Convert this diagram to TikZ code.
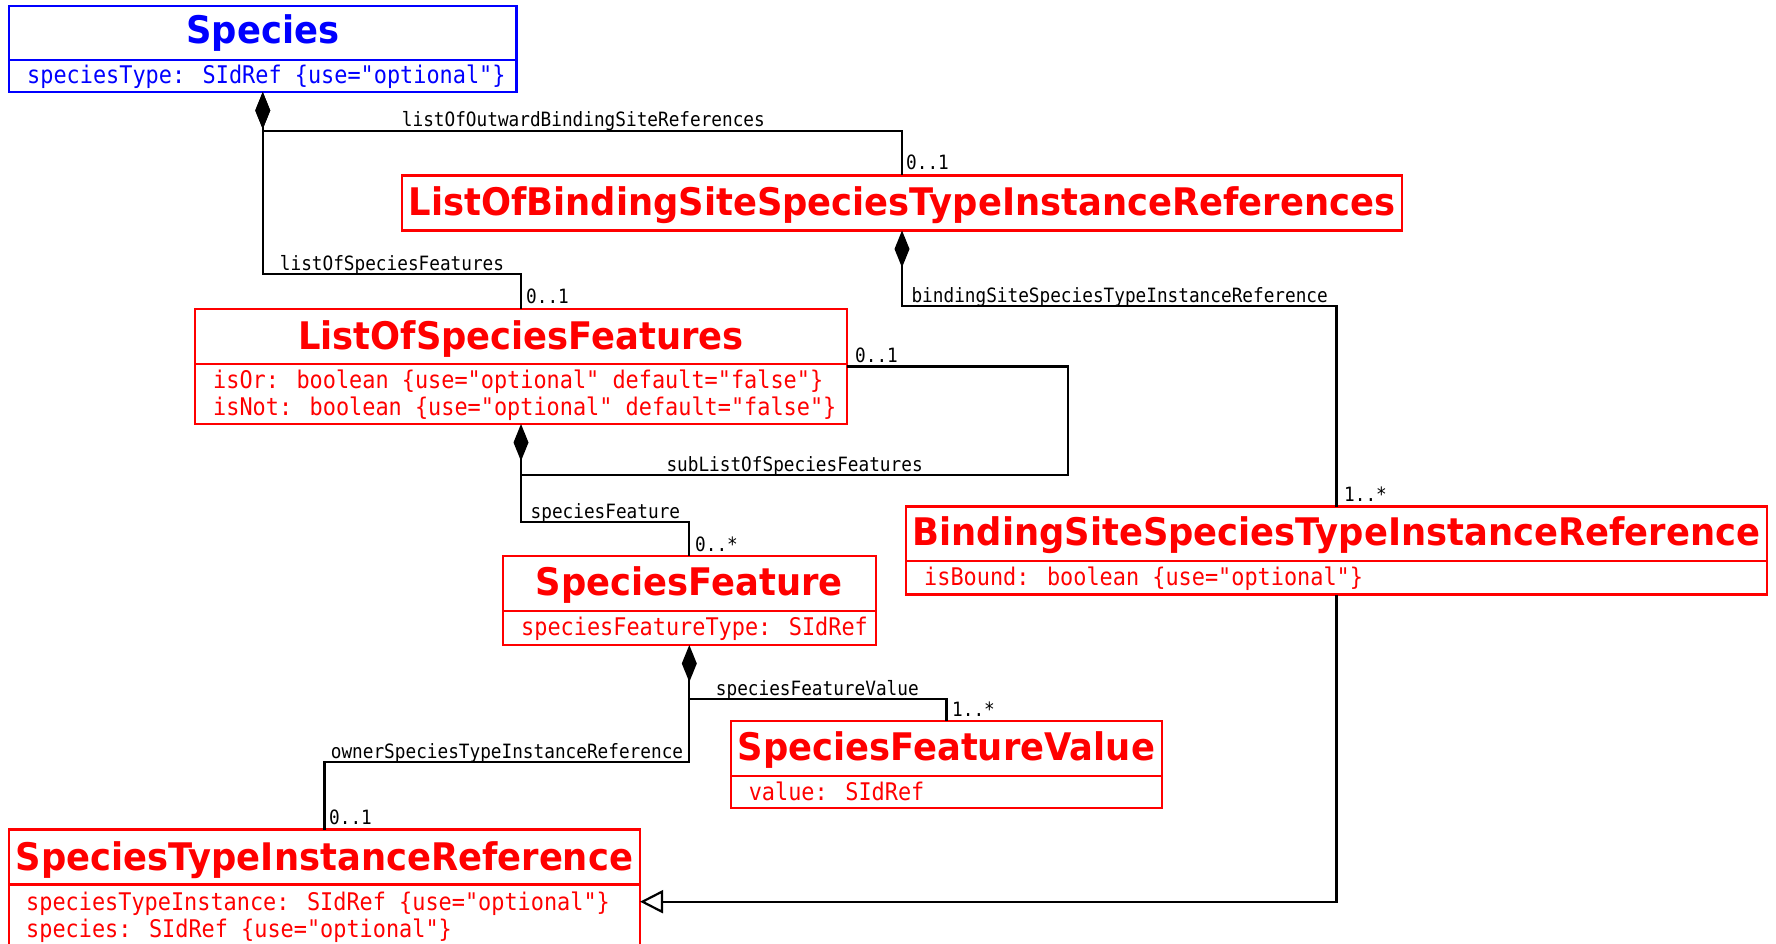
\documentclass[tikz,border=0pt]{standalone}
\usepackage{fontspec}
\usetikzlibrary{arrows.meta}
\newfontfamily\titlefont[FakeStretch=0.93]{DejaVu Sans}
\newfontfamily\umlmono[FakeStretch=0.9]{DejaVu Sans Mono}
\definecolor{umlred}{RGB}{255,0,0}
\definecolor{umlblue}{RGB}{0,0,255}
\tikzset{
  classbox/.style={draw=#1, line width=2.2pt, rectangle, inner sep=0pt, outer sep=0pt, fill=white},
  divider/.style={draw=#1, line width=2.2pt},
  ctitle/.style={text=#1, font=\titlefont\bfseries\fontsize{38}{38}\selectfont, anchor=base, inner sep=0pt},
  cattr/.style={text=#1, font=\umlmono\fontsize{24.3}{24.3}\selectfont, anchor=base west, inner sep=0pt},
  lbl/.style={font=\umlmono\fontsize{19.7}{19.7}\selectfont, anchor=base, inner sep=0pt},
  mult/.style={font=\umlmono\fontsize{19.7}{19.7}\selectfont, anchor=base west, inner sep=0pt},
  conn/.style={draw=black, line width=2.2pt},
  comp/.style={conn, {Diamond[length=37pt,width=15pt]}-},
  gen/.style={conn, -{Triangle[open,length=23pt,width=23pt,fill=white,line width=2.2pt]}}
}
\begin{document}
\begin{tikzpicture}[x=1pt,y=-1pt]
\useasboundingbox[fill=white] (0,0) rectangle (1776,944);

% ---------- classes ----------
% Species
\node[classbox=umlblue, minimum width=507.5pt, minimum height=86pt, anchor=north west] (A) at (9,6) {};
\draw[divider=umlblue] (A.north west) ++(0,54) -- ++(507.5,0);
\node[ctitle=umlblue] (At) at (262.75,43.5) {Species};
\node[cattr=umlblue] (Aa) at (27,84) {speciesType: SIdRef \{use="optional"\}};

% ListOfBindingSiteSpeciesTypeInstanceReferences
\node[classbox=umlred, minimum width=1000pt, minimum height=55pt, anchor=north west] (B) at (402,175.5) {};
\node[ctitle=umlred] (Bt) at (902,215) {ListOfBindingSiteSpeciesTypeInstanceReferences};

% ListOfSpeciesFeatures
\node[classbox=umlred, minimum width=652pt, minimum height=115pt, anchor=north west] (C) at (195,309) {};
\draw[divider=umlred] (C.north west) ++(0,55) -- ++(652,0);
\node[ctitle=umlred] (Ct) at (521,349) {ListOfSpeciesFeatures};
\node[cattr=umlred] (Ca1) at (213,388) {isOr: boolean \{use="optional" default="false"\}};
\node[cattr=umlred] (Ca2) at (213,415) {isNot: boolean \{use="optional" default="false"\}};

% SpeciesFeature
\node[classbox=umlred, minimum width=372.6pt, minimum height=89pt, anchor=north west] (D) at (503,556) {};
\draw[divider=umlred] (D.north west) ++(0,55) -- ++(372.6,0);
\node[ctitle=umlred] (Dt) at (689.3,595.5) {SpeciesFeature};
\node[cattr=umlred] (Da) at (521,635) {speciesFeatureType: SIdRef};

% BindingSiteSpeciesTypeInstanceReference
\node[classbox=umlred, minimum width=861pt, minimum height=88pt, anchor=north west] (E) at (906,506.5) {};
\draw[divider=umlred] (E.north west) ++(0,54.5) -- ++(861,0);
\node[ctitle=umlred] (Et) at (1336.5,545) {BindingSiteSpeciesTypeInstanceReference};
\node[cattr=umlred] (Ea) at (924,585) {isBound: boolean \{use="optional"\}};

% SpeciesFeatureValue
\node[classbox=umlred, minimum width=431.6pt, minimum height=87pt, anchor=north west] (F) at (730.6,721) {};
\draw[divider=umlred] (F.north west) ++(0,55) -- ++(431.6,0);
\node[ctitle=umlred] (Ft) at (946.4,760.5) {SpeciesFeatureValue};
\node[cattr=umlred] (Fa) at (748.6,800) {value: SIdRef};

% SpeciesTypeInstanceReference
\node[classbox=umlred, minimum width=631pt, minimum height=120pt, anchor=north west] (G) at (9,829.5) {};
\draw[divider=umlred] (G.north west) ++(0,55) -- ++(631,0);
\node[ctitle=umlred] (Gt) at (324.5,870) {SpeciesTypeInstanceReference};
\node[cattr=umlred] (Ga1) at (26,910) {speciesTypeInstance: SIdRef \{use="optional"\}};
\node[cattr=umlred] (Ga2) at (26,937) {species: SIdRef \{use="optional"\}};

% ---------- routing levels ----------
\coordinate (y1) at (0,131);
\coordinate (y2) at (0,274);
\coordinate (y3) at (0,306);
\coordinate (loop) at (1068,475);
\coordinate (y5) at (0,522);
\coordinate (y6) at (0,699);
\coordinate (y7) at (0,762);
\coordinate (y8) at (0,901.7);
\coordinate (j1) at (C.south |- loop);
\coordinate (j2) at (D.south |- y6);

% ---------- connectors ----------
\draw[comp] (A.south) -- (A.south |- y1) -| (B.north);
\draw[comp] (A.south) -- (A.south |- y2) -| (C.north);
\draw[comp] (B.south) -- (B.south |- y3) -| (E.north);
\draw[comp] (C.south) |- (loop) |- (C.east);
\draw[conn] (j1) -- (j1 |- y5) -| (D.north);
\draw[comp] (D.south) -- (D.south |- y6) -| (F.north);
\draw[conn] (j2) -- (j2 |- y7) -| (G.north);
\draw[gen] (E.south) -- (E.south |- y8) -- (G.east |- y8);

% ---------- labels ----------
\node[lbl] (l1) at (583.4,127) {listOfOutwardBindingSiteReferences};
\node[lbl] (l2) at (392,270) {listOfSpeciesFeatures};
\node[lbl] (l3) at (1119.7,302) {bindingSiteSpeciesTypeInstanceReference};
\node[lbl] (l4) at (794.6,471) {subListOfSpeciesFeatures};
\node[lbl] (l5) at (605.4,518) {speciesFeature};
\node[lbl] (l6) at (817.3,695) {speciesFeatureValue};
\node[lbl] (l7) at (507,758) {ownerSpeciesTypeInstanceReference};

\node[mult] (m1) at (906,170) {0..1};
\node[mult] (m2) at (526,303) {0..1};
\node[mult] (m3) at (1344,501) {1..*};
\node[mult] (m4) at (855,362) {0..1};
\node[mult] (m5) at (695,551) {0..*};
\node[mult] (m6) at (952,716) {1..*};
\node[mult] (m7) at (329,824) {0..1};
\end{tikzpicture}
\end{document}
